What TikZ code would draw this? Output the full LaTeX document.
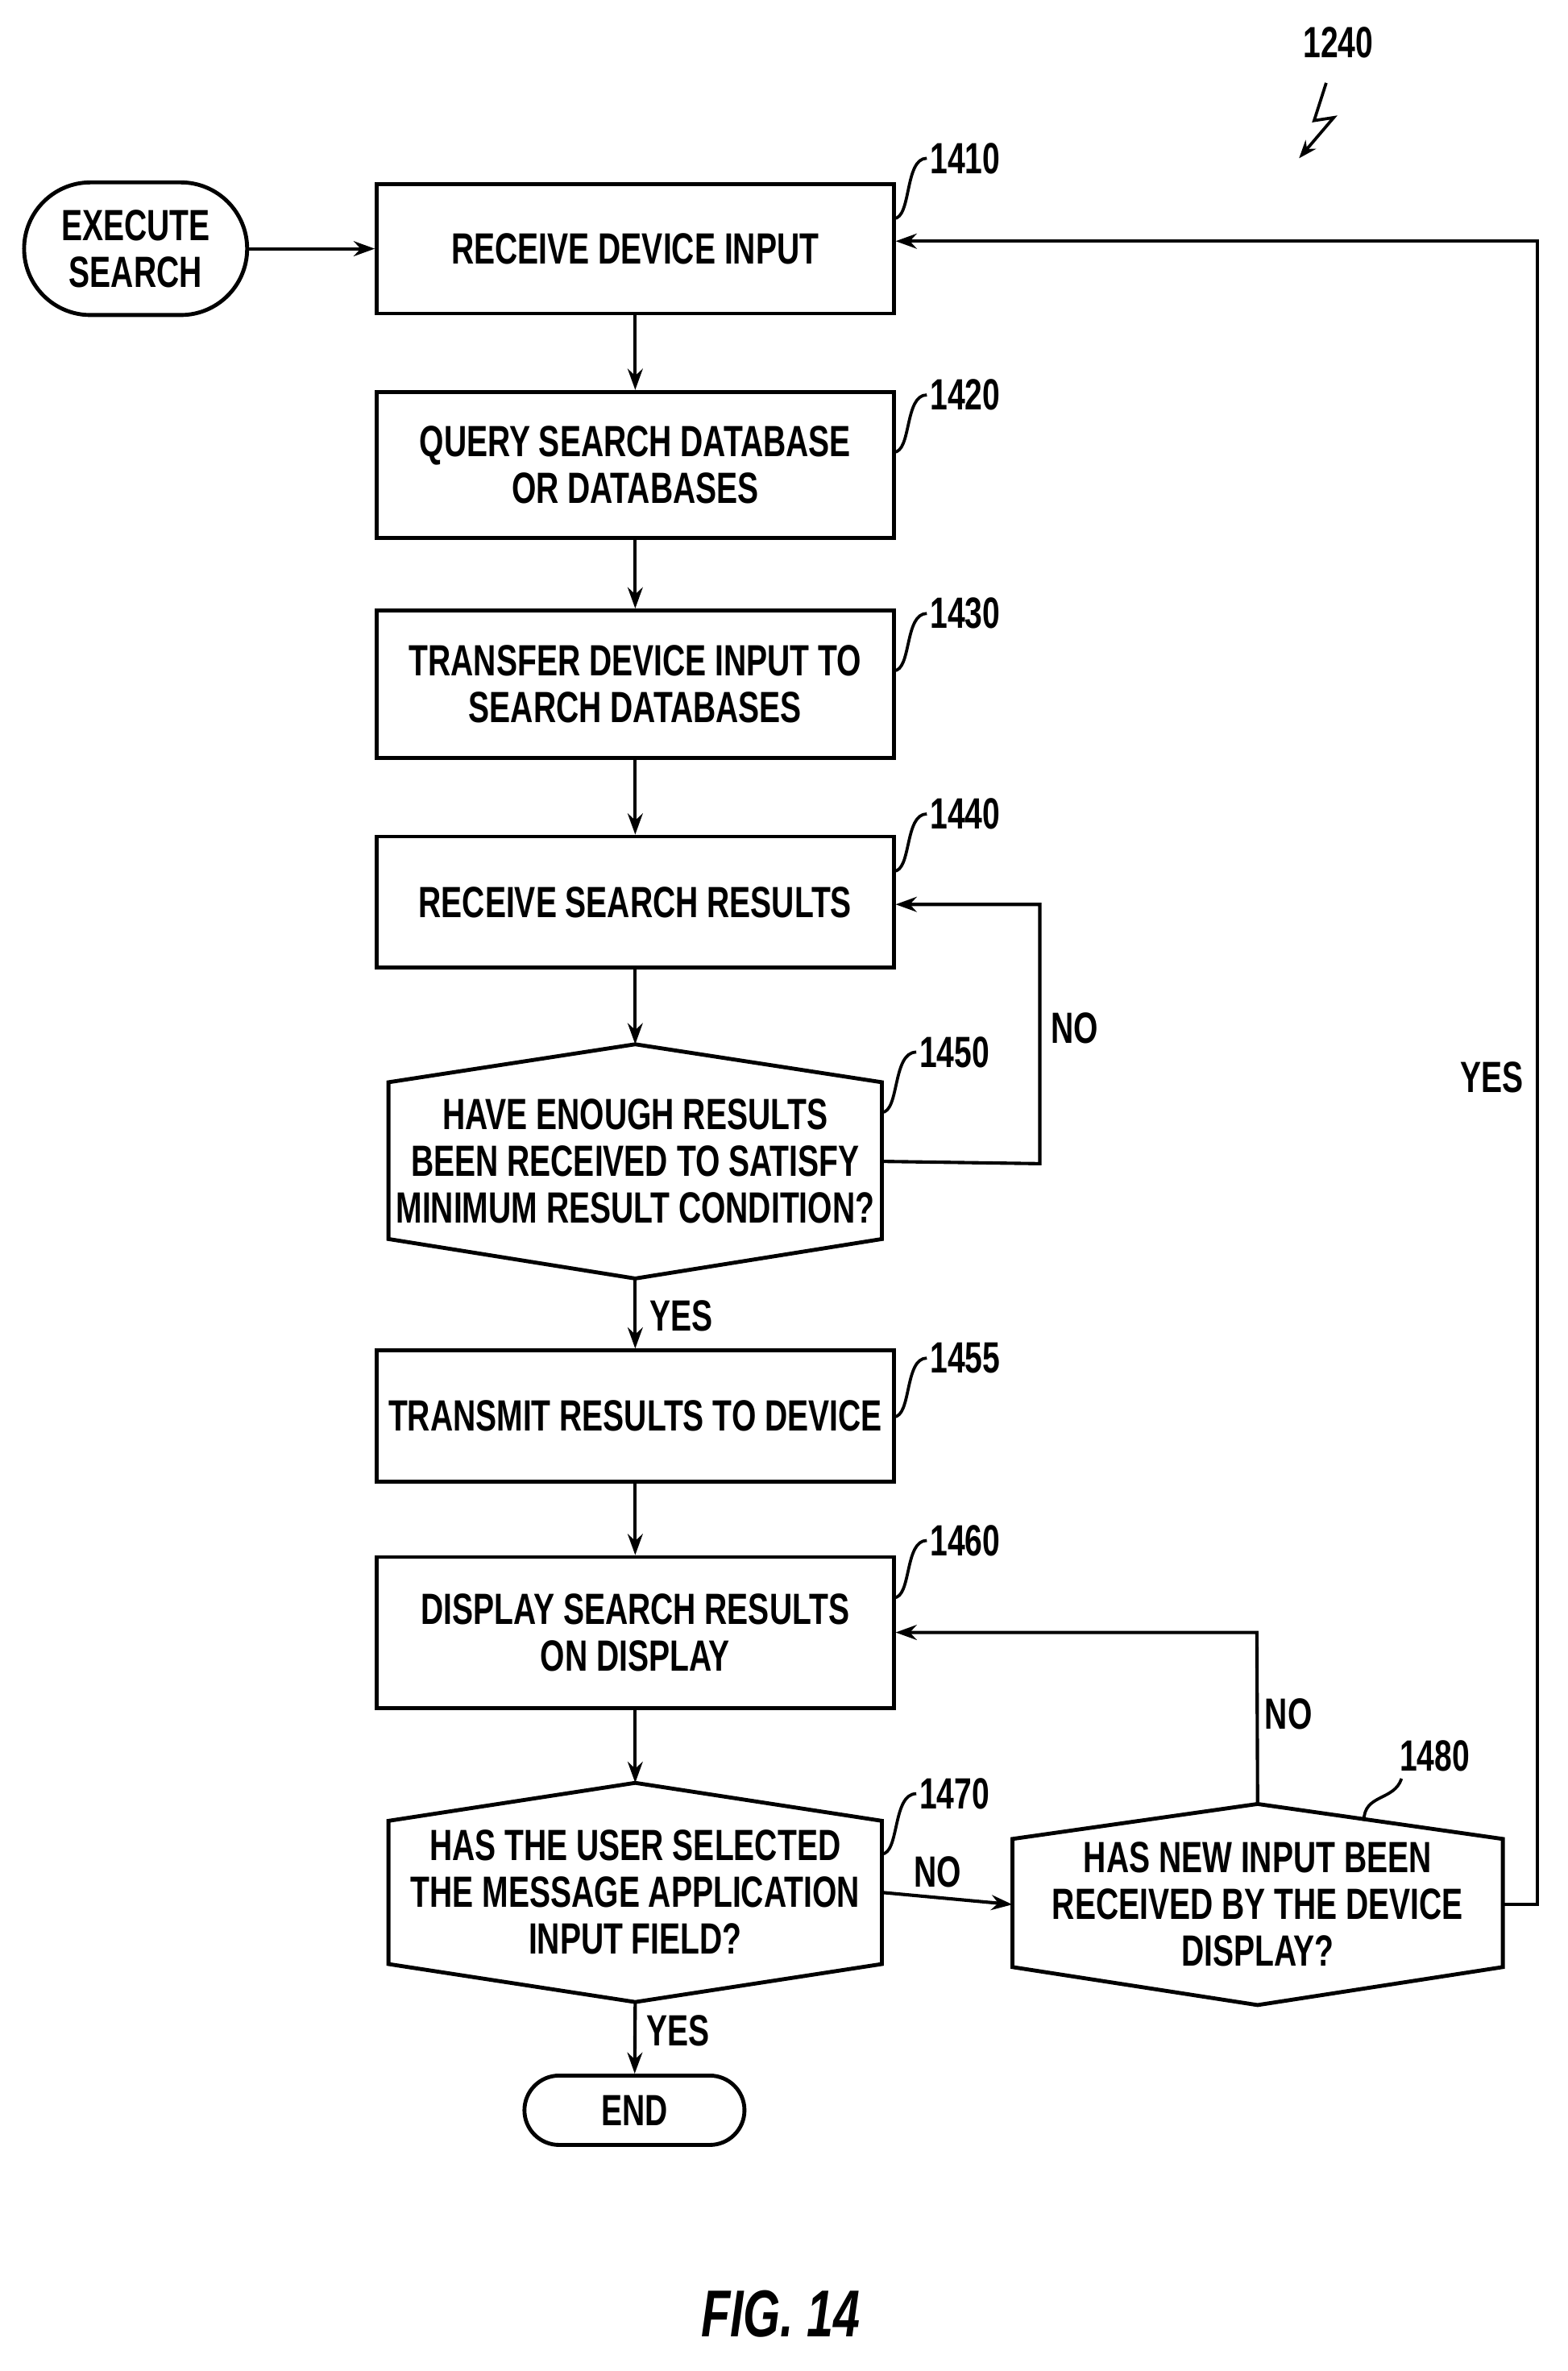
\documentclass[tikz,border=0pt]{standalone}
\usepackage{fontspec}
\setmainfont{Liberation Sans}[FakeStretch=0.72]
\usetikzlibrary{arrows.meta}
\begin{document}
\begin{tikzpicture}[x=1pt,y=-1pt,
  every node/.style={font=\fontsize{29}{31}\selectfont\bfseries, align=center, inner sep=0pt},
  box/.style={draw, line width=2.6pt, minimum width=343pt},
  hx/.style={minimum width=327pt},
  term/.style={draw, line width=2.6pt, rounded corners=22pt},
  lab/.style={font=\fontsize{29}{31}\selectfont\bfseries},
  ar/.style={line width=2.2pt, -{Stealth[length=14pt,width=10pt]}},
  ld/.style={line width=2pt}]
\useasboundingbox (0,0) rectangle (1040,1573);
\node[term, minimum width=148pt, minimum height=88pt, rounded corners=44pt] (ex) at (90,165) {EXECUTE\\SEARCH};
\node[box, minimum height=86pt] (b1) at (421.5,165) {RECEIVE DEVICE INPUT};
\node[box, minimum height=97pt] (b2) at (421.5,308.5) {QUERY SEARCH DATABASE\\OR DATABASES};
\node[box, minimum height=98pt] (b3) at (421.5,454) {TRANSFER DEVICE INPUT TO\\SEARCH DATABASES};
\node[box, minimum height=87pt] (b4) at (421.5,598.5) {RECEIVE SEARCH RESULTS};
\node[hx, minimum height=155pt] (h5) at (421.5,770.5) {HAVE ENOUGH RESULTS\\BEEN RECEIVED TO SATISFY\\MINIMUM RESULT CONDITION?};
\node[box, minimum height=87pt] (b55) at (421.5,939.5) {TRANSMIT RESULTS TO DEVICE};
\node[box, minimum height=100pt] (b6) at (421.5,1083) {DISPLAY SEARCH RESULTS\\ON DISPLAY};
\node[hx, minimum height=145pt] (h7) at (421.5,1255.5) {HAS THE USER SELECTED\\THE MESSAGE APPLICATION\\INPUT FIELD?};
\node[minimum width=325pt, minimum height=133pt] (h8) at (834.5,1263.5) {HAS NEW INPUT BEEN\\RECEIVED BY THE DEVICE\\DISPLAY?};
\node[term, minimum width=146pt, minimum height=46pt, rounded corners=23pt] (end) at (421,1400) {END};
% hexagons
\draw[line width=2.6pt] (h5.west |- 0,718) -- (h5.north) -- (h5.east |- 0,718) -- (h5.east |- 0,822) -- (h5.south) -- (h5.west |- 0,822) -- cycle;
\draw[line width=2.6pt] (h7.west |- 0,1208) -- (h7.north) -- (h7.east |- 0,1208) -- (h7.east |- 0,1303) -- (h7.south) -- (h7.west |- 0,1303) -- cycle;
\draw[line width=2.6pt] (h8.west |- 0,1220) -- (h8.north) -- (h8.east |- 0,1220) -- (h8.east |- 0,1305) -- (h8.south) -- (h8.west |- 0,1305) -- cycle;
% arrows
\draw[ar] (ex) -- (b1);
\draw[ar] (b1) -- (b2);
\draw[ar] (b2) -- (b3);
\draw[ar] (b3) -- (b4);
\draw[ar] (b4) -- (h5.north);
\draw[ar] (h5.south) -- (b55);
\draw[ar] (b55) -- (b6);
\draw[ar] (b6) -- (h7.north);
\draw[ar] (h7.south) -- (end);
\draw[ar] (h7.east) -- (h8.west);
\draw[ar] (h5.east) -- (690,772) -- (690,600) -- (b4.east |- 0,600);
\draw[ar] (h8.north) -- (834,1083) -- (b6.east |- 0,1083);
\draw[ar] (h8.east) -- (1020,1263.5) -- (1020,160) -- (b1.east |- 0,160);
% condition labels
\node[lab] at (713,682) {NO};
\node[lab] at (990,715) {YES};
\node[lab] at (452,873) {YES};
\node[lab] at (622,1242) {NO};
\node[lab] at (855,1137) {NO};
\node[lab] at (450,1347) {YES};
% reference numbers
\foreach \n/\y/\by in {1410/105/145, 1420/262/300, 1430/407/445, 1440/540/578, 1455/901/940, 1460/1022/1060}{
  \node[lab, anchor=west] (r\n) at (617,\y) {\n};
  \draw[ld] (593,\by) .. controls (605,\by) and (600,\y) .. (615,\y);
}
\node[lab, anchor=west] (r1450) at (610,698) {1450};
\draw[ld] (585,738) .. controls (597,738) and (592,698) .. (608,698);
\node[lab, anchor=west] (r1470) at (610,1190) {1470};
\draw[ld] (585,1230) .. controls (597,1230) and (592,1190) .. (608,1190);
\node[lab] (r1480) at (952,1165) {1480};
\draw[ld] (905,1208) .. controls (905,1190) and (925,1195) .. (930,1180);
\node[lab] (r1240) at (888,28) {1240};
\coordinate (zz) at (862,105);
\draw[line width=2pt, -{Stealth[length=12pt,width=9pt]}] (880,55) -- (872,80) -- (885,78) -- (zz);
\node[font=\fontsize{44}{46}\selectfont\bfseries\itshape] (fig) at (518,1535) {FIG. 14};
\end{tikzpicture}
\end{document}
